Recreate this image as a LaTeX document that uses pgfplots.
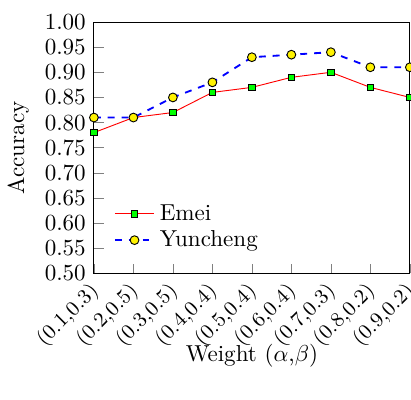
\documentclass[border=0pt]{standalone}
\usepackage{pgfplots}
\pgfplotsset{compat=1.18}
\begin{document}
\begin{tikzpicture}
\begin{axis}[
  scale only axis,
  width=137pt, height=109pt,
  xmin=0, xmax=8,
  ymin=0.5, ymax=1.0,
  ytick={0.5,0.55,...,1.001},
  yticklabel style={/pgf/number format/.cd, fixed, fixed zerofill, precision=2},
  xtick={0,...,8},
  xticklabels={{(0.1,0.3)},{(0.2,0.5)},{(0.3,0.5)},{(0.4,0.4)},{(0.5,0.4)},{(0.6,0.4)},{(0.7,0.3)},{(0.8,0.2)},{(0.9,0.2)}},
  xticklabel style={font=\small, rotate=45, anchor=east, inner sep=0.5pt, yshift=-5pt, xshift=-3.5pt},
  tick align=inside,
  xtick pos=bottom, ytick pos=left,
  xlabel={Weight ($\alpha$,$\beta$)},
  xlabel style={yshift=7pt},
  ylabel={Accuracy},
  legend style={draw=none, fill=none, at={(0.04,0.055)}, anchor=south west, row sep=-1pt},
  legend cell align=left,
  clip=false,
]
\addplot[red, mark=square*, mark size=1.4pt, mark options={solid, fill=green, draw=black}]
  coordinates {(0,0.78)(1,0.81)(2,0.82)(3,0.86)(4,0.87)(5,0.89)(6,0.90)(7,0.87)(8,0.85)};
\addlegendentry{Emei}
\addplot[blue, thick, dashed, mark=*, mark size=1.9pt, mark options={solid, fill=yellow, draw=black, thin}]
  coordinates {(0,0.81)(1,0.81)(2,0.85)(3,0.88)(4,0.93)(5,0.935)(6,0.94)(7,0.91)(8,0.91)};
\addlegendentry{Yuncheng}
\end{axis}
\pgfresetboundingbox
\useasboundingbox ([yshift=-11pt]current axis.outer south west) rectangle ([xshift=0.5pt, yshift=3pt]current axis.south east |- current axis.outer north east);
\end{tikzpicture}
\end{document}
